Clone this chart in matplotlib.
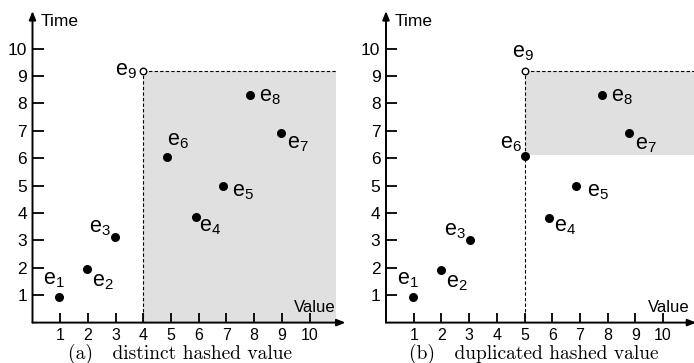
import matplotlib
matplotlib.use("Agg")
import matplotlib.pyplot as plt

plt.rcParams["font.family"] = ["Liberation Sans", "DejaVu Sans"]

# points e1..e8, (value, time)
labels = ["e1", "e2", "e3", "e4", "e5", "e6", "e7", "e8"]
values_a = [0.97, 1.96, 2.99, 5.90, 6.88, 4.87, 8.97, 7.85]
times_a = [0.95, 1.94, 3.12, 3.84, 5.00, 6.05, 6.93, 8.30]
values_b = [0.98, 1.98, 3.05, 5.89, 6.87, 5.00, 8.78, 7.79]
times_b = [0.95, 1.93, 3.00, 3.83, 5.00, 6.07, 6.93, 8.30]
e9_a = (4.0, 9.18)
e9_b = (5.0, 9.18)
shade_bottom_b = 6.1
ticks = list(range(1, 11))
captions = ["(a)   distinct hashed value", "(b)   duplicated hashed value"]

# label offsets in pixels (dx, dy) for e1..e9
offs_a = [(-16, 12), (5, -17), (-26, 5), (3, -14), (9, -11), (0, 11), (6, -16), (9, -6), (-28, -4)]
offs_b = [(-16, 12), (5, -18), (-26, 5), (5, -14), (11, -11), (-24, 8), (6, -17), (9, -6), (-13, 14)]

W, H = 694, 363
ux, uy = 27.7, 27.4
fig = plt.figure(figsize=(W / 100, H / 100), dpi=100)


def panel(x0, vals, tms, e9, shade_x1, shade_y0, offs, caption, xmax_arrow):
    xlim, ylim = 11.45, 11.45
    ax = fig.add_axes([x0 / W, (H - 322.6) / H, xlim * ux / W, ylim * uy / H])
    ax.set_xlim(0, xlim)
    ax.set_ylim(0, ylim)
    for s in ax.spines.values():
        s.set_visible(False)
    ax.set_xticks(ticks)
    ax.set_yticks(ticks)
    ax.tick_params(axis="x", direction="in", length=7, width=1.3, pad=4, labelsize=11.5)
    ax.tick_params(axis="y", direction="in", length=8, width=1.3, pad=4, labelsize=12.5)

    # shaded region and dashed boundary
    ex, ey = e9
    ax.fill_between([ex, shade_x1], shade_y0, ey, color="#e0e0e0", lw=0, zorder=0)
    ax.plot([ex, ex], [0, ey], ls=(0, (3, 2)), color="black", lw=0.8, zorder=1)
    ax.plot([ex, shade_x1], [ey, ey], ls=(0, (3, 2)), color="black", lw=0.8, zorder=1, clip_on=False)

    # axes with arrows
    arrow = dict(arrowstyle="-|>,head_length=0.5,head_width=0.2", lw=1.4, color="black", shrinkA=0, shrinkB=0)
    ax.annotate("", xy=(xmax_arrow, 0), xytext=(0, 0), arrowprops=arrow, annotation_clip=False)
    ax.annotate("", xy=(0, 11.37), xytext=(0, 0), arrowprops=arrow, annotation_clip=False)
    ax.text(0.3, 11.0, "Time", fontsize=12.5, va="center", ha="left")
    ax.text(10.95, 0.55, "Value", fontsize=12, va="center", ha="right")

    ax.scatter(vals, tms, s=30, color="black", zorder=3, clip_on=False)
    ax.scatter([ex], [ey], s=22, facecolor="white", edgecolor="black", lw=1, zorder=3, clip_on=False)

    xs = vals + [ex]
    ys = tms + [ey]
    names = labels + ["e9"]
    for n, x, y, (dx, dy) in zip(names, xs, ys, offs):
        ax.annotate(r"$\mathregular{e_{%s}}$" % n[1:], (x, y), xytext=(dx, dy),
                    textcoords="offset pixels", ha="left", va="baseline", fontsize=15.5)

    fig.text((x0 + 5.32 * ux) / W, 1 - 353.5 / H, caption, family="cmr10",
             fontsize=14, ha="center", va="center")
    return ax


panel(32.5, values_a, times_a, e9_a, 10.96, 0, offs_a, captions[0], 11.3)
panel(386.0, values_b, times_b, e9_b, 11.2, shade_bottom_b, offs_b, captions[1], 11.2)

fig.savefig("out.png", dpi=100)
